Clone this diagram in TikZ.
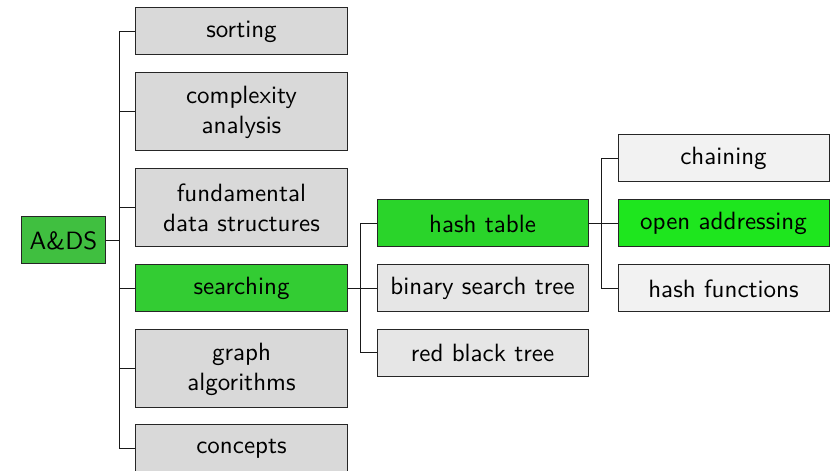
\documentclass[tikz,border=0pt]{standalone}
\usepackage{xcolor}
\definecolor{g0}{RGB}{64,191,64}
\definecolor{g1}{RGB}{51,204,51}
\definecolor{g2}{RGB}{42,212,42}
\definecolor{g3}{RGB}{30,230,30}
\definecolor{n1}{RGB}{217,217,217}
\definecolor{n2}{RGB}{230,230,230}
\definecolor{n3}{RGB}{242,242,242}
\tikzset{
  box/.style={draw=black!85, line width=0.4pt, font=\sffamily, align=center, inner sep=3.33pt,
    minimum height=18.8pt, text=black},
  lvl/.style={box, minimum width=84.4pt},
  tall/.style={minimum height=31.2pt},
  conn/.style={draw=black!90, line width=0.4pt},
}
\begin{document}
\begin{tikzpicture}[x=0.4pt,y=-0.4pt]
\useasboundingbox (0,0) rectangle (834,471);
\node[box, fill=g0] (root) at (63.5,240.5) {A\&DS};
\node[lvl, fill=n1] (sort) at (241.5,31.5) {sorting};
\node[lvl, tall, fill=n1] (cplx) at (241.5,112) {complexity\\analysis};
\node[lvl, tall, fill=n1] (fund) at (241.5,208) {fundamental\\data structures};
\node[lvl, fill=g1] (srch) at (241.5,288.5) {searching};
\node[lvl, tall, fill=n1] (graph) at (241.5,369) {graph\\algorithms};
\node[lvl, fill=n1] (conc) at (241.5,448.5) {concepts};
\node[lvl, fill=g2] (hash) at (482.5,223.5) {hash table};
\node[lvl, fill=n2] (bst) at (482.5,288.5) {binary search tree};
\node[lvl, fill=n2] (rbt) at (482.5,353) {red black tree};
\node[lvl, fill=n3] (chain) at (723.5,158.5) {chaining};
\node[lvl, fill=g3] (open) at (723.5,223.5) {open addressing};
\node[lvl, fill=n3] (hfun) at (723.5,288.5) {hash functions};
\foreach \c in {sort,cplx,fund,srch,graph,conc}
  \draw[conn] (root.east) -- ++(13,0) |- (\c.west);
\foreach \c in {hash,bst,rbt}
  \draw[conn] (srch.east) -- ++(12.5,0) |- (\c.west);
\foreach \c in {chain,open,hfun}
  \draw[conn] (hash.east) -- ++(13,0) |- (\c.west);
\end{tikzpicture}
\end{document}
